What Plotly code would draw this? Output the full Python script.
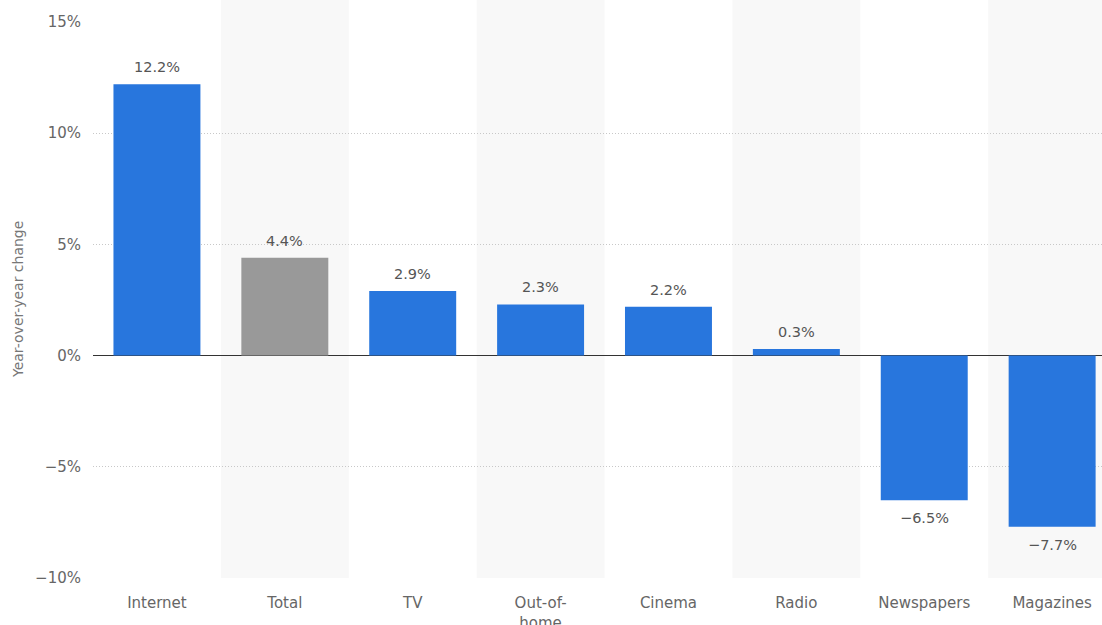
import plotly.graph_objects as go

categories = ["Internet", "Total", "TV", "Out-of-<br>home", "Cinema", "Radio", "Newspapers", "Magazines"]
values = [12.2, 4.4, 2.9, 2.3, 2.2, 0.3, -6.5, -7.7]
bar_colors = ["#2876dd", "#999999", "#2876dd", "#2876dd", "#2876dd", "#2876dd", "#2876dd", "#2876dd"]
y_ticks = [-10, -5, 0, 5, 10, 15]
y_tick_text = ["\u221210%", "\u22125%", "0%", "5%", "10%", "15%"]

font_family = "DejaVu Sans, Verdana, sans-serif"


def pct(v):
    s = f"{abs(v):.1f}%"
    return ("\u2212" + s) if v < 0 else s


fig = go.Figure()
fig.add_trace(go.Bar(
    x=list(range(len(categories))),
    y=values,
    marker=dict(color=bar_colors, line=dict(width=0)),
    width=0.68,
    hoverinfo="skip",
))

# value labels just beyond the end of each bar
for i, v in enumerate(values):
    fig.add_annotation(
        x=i, y=v, xref="x", yref="y",
        text=pct(v),
        showarrow=False,
        yanchor="bottom" if v >= 0 else "top",
        yshift=7 if v >= 0 else -8,
        font=dict(color="#555555", size=14.5, family=font_family),
    )

# vertical axis title
fig.add_annotation(
    x=-0.0743, y=0.5, xref="paper", yref="paper",
    text="Year-over-year change", textangle=-90,
    showarrow=False, xanchor="center", yanchor="middle",
    font=dict(size=14, color="#777777", family=font_family),
)

# alternating light background bands behind every other category
for i in range(1, len(categories), 2):
    fig.add_shape(type="rect", xref="x", yref="paper",
                  x0=i - 0.5, x1=i + 0.5, y0=0, y1=1.04,
                  fillcolor="#f8f8f8", line=dict(width=0), layer="below")

fig.update_layout(
    width=1102, height=625,
    margin=dict(l=93, r=0, t=22, b=47),
    plot_bgcolor="rgba(0,0,0,0)",
    paper_bgcolor="white",
    showlegend=False,
    font=dict(family=font_family, color="#666666", size=15),
    xaxis=dict(
        range=[-0.5, 7.39],
        tickmode="array",
        tickvals=list(range(len(categories))),
        ticktext=categories,
        showgrid=False,
        zeroline=False,
        showline=False,
        ticks="",
        automargin=False,
        ticklabelstandoff=14,
        tickfont=dict(size=15, color="#666666"),
    ),
    yaxis=dict(
        range=[-10, 15],
        tickmode="array",
        tickvals=y_ticks,
        ticktext=y_tick_text,
        showgrid=True,
        gridcolor="#c8c8c8",
        griddash="1px,2px",
        gridwidth=1,
        zeroline=True,
        zerolinecolor="#333333",
        zerolinewidth=1.2,
        showline=False,
        ticks="",
        automargin=False,
        ticklabelstandoff=11,
        tickfont=dict(size=15, color="#666666"),
    ),
)

fig.write_html("out.html")
